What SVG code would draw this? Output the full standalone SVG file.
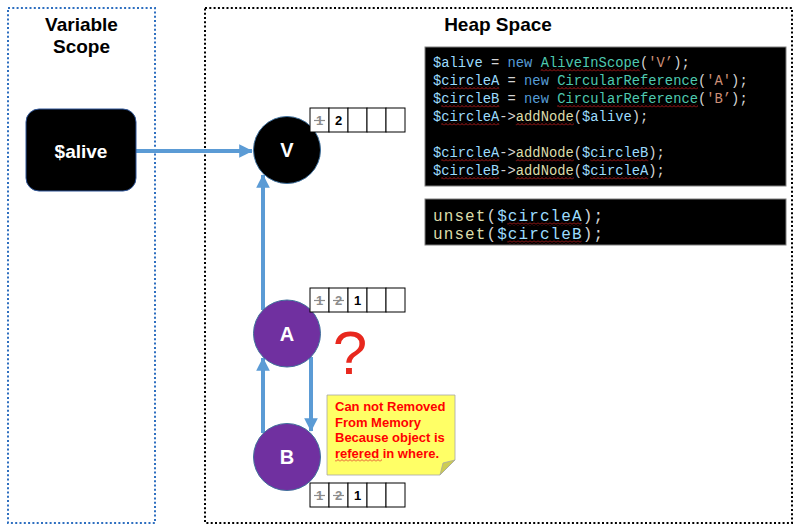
<svg xmlns="http://www.w3.org/2000/svg" width="800" height="532" viewBox="0 0 800 532">
<defs>
<style>
.title{font-family:"Liberation Sans",Arial,sans-serif;font-weight:bold;font-size:19px;fill:#000;text-anchor:middle}
.nlabel{font-family:"Liberation Sans",Arial,sans-serif;font-weight:bold;font-size:20px;fill:#fff;text-anchor:middle}
.cell{fill:#fff;stroke:#000;stroke-width:1}
.cnt{font-family:"Liberation Sans",Arial,sans-serif;font-weight:bold;font-size:13px;fill:#000;text-anchor:middle}
.old{fill:#8c8c8c}
.strike{stroke:#8c8c8c;stroke-width:1.2}
.code{font-family:"Liberation Mono","DejaVu Sans Mono",monospace;font-size:13.8px;fill:#d4d4d4}
.code2{font-family:"Liberation Mono","DejaVu Sans Mono",monospace;font-size:16px;fill:#d4d4d4}
.v{fill:#9cdcfe}.k{fill:#569cd6}.c{fill:#4ec9b0}.s{fill:#ce9178}.f{fill:#dcdcaa}
.edge{stroke:#5b9bd5;stroke-width:4;fill:none}
.note{font-family:"Liberation Sans",Arial,sans-serif;font-weight:bold;font-size:13px;fill:#ff0000}
.sq{fill:url(#squig)}
</style>
<pattern id="squig" patternUnits="userSpaceOnUse" width="4" height="3">
<path d="M0,2.5 L2,0.5 L4,2.5" stroke="#e02020" stroke-width="0.8" fill="none"/>
</pattern>
<marker id="arr" markerWidth="4" markerHeight="4" refX="3.2" refY="2" orient="auto" markerUnits="strokeWidth">
<path d="M0,0.3 L3.4,2 L0,3.7 Z" fill="#5b9bd5"/>
</marker>
</defs>
<rect width="800" height="532" fill="#fff"/>

<g id="variable-scope">
<rect x="8" y="8" width="147" height="515" fill="none" stroke="#2e6fc0" stroke-width="2" stroke-dasharray="2 2.3"/>
<text class="title" x="81.5" y="31">Variable</text>
<text class="title" x="81.5" y="53">Scope</text>
</g>

<g id="heap-space">
<rect x="205" y="8" width="587" height="515" fill="none" stroke="#000" stroke-width="2" stroke-dasharray="2 2.3"/>
<text class="title" x="498" y="31">Heap Space</text>
</g>

<g id="connectors">
<line class="edge" x1="136" y1="151" x2="252" y2="151" marker-end="url(#arr)"/>
<line class="edge" x1="263" y1="310" x2="263" y2="175" marker-end="url(#arr)"/>
<line class="edge" x1="263" y1="433" x2="263" y2="358" marker-end="url(#arr)"/>
<line class="edge" x1="311" y1="357" x2="311" y2="431" marker-end="url(#arr)"/>
</g>

<g id="alive">
<rect x="26" y="109" width="110" height="82" rx="13" fill="#000" stroke="#2f5597" stroke-width="1"/>
<text class="nlabel" x="81" y="158" style="font-size:19px">$alive</text>
</g>

<g id="node-V">
<circle cx="287" cy="150" r="33.5" fill="#000" stroke="#41719c" stroke-width="1"/>
<text class="nlabel" x="287" y="157">V</text>
</g>
<g id="count-V">
<rect class="cell" x="310" y="108" width="19" height="24"/>
<rect class="cell" x="329" y="108" width="19" height="24"/>
<rect class="cell" x="348" y="108" width="19" height="24"/>
<rect class="cell" x="367" y="108" width="19" height="24"/>
<rect class="cell" x="386" y="108" width="19" height="24"/>
<text class="cnt old" x="319.5" y="125">1</text>
<line class="strike" x1="314" y1="120.5" x2="325" y2="120.5"/>
<text class="cnt" x="338.5" y="125">2</text>
</g>

<g id="node-A">
<circle cx="287" cy="333.5" r="33.5" fill="#7030a0" stroke="#41719c" stroke-width="1"/>
<text class="nlabel" x="287" y="341">A</text>
</g>
<g id="count-A">
<rect class="cell" x="310" y="288" width="19" height="24"/>
<rect class="cell" x="329" y="288" width="19" height="24"/>
<rect class="cell" x="348" y="288" width="19" height="24"/>
<rect class="cell" x="367" y="288" width="19" height="24"/>
<rect class="cell" x="386" y="288" width="19" height="24"/>
<text class="cnt old" x="319.5" y="305">1</text>
<line class="strike" x1="314" y1="300.5" x2="325" y2="300.5"/>
<text class="cnt old" x="338.5" y="305">2</text>
<line class="strike" x1="333" y1="300.5" x2="344" y2="300.5"/>
<text class="cnt" x="357.5" y="305">1</text>
</g>

<g id="node-B">
<circle cx="287" cy="457" r="33.5" fill="#7030a0" stroke="#41719c" stroke-width="1"/>
<text class="nlabel" x="287" y="464">B</text>
</g>
<g id="count-B">
<rect class="cell" x="310" y="483" width="19" height="24"/>
<rect class="cell" x="329" y="483" width="19" height="24"/>
<rect class="cell" x="348" y="483" width="19" height="24"/>
<rect class="cell" x="367" y="483" width="19" height="24"/>
<rect class="cell" x="386" y="483" width="19" height="24"/>
<text class="cnt old" x="319.5" y="500">1</text>
<line class="strike" x1="314" y1="495.5" x2="325" y2="495.5"/>
<text class="cnt old" x="338.5" y="500">2</text>
<line class="strike" x1="333" y1="495.5" x2="344" y2="495.5"/>
<text class="cnt" x="357.5" y="500">1</text>
</g>

<g id="question">
<text x="350" y="374" style="font-family:'Liberation Sans',Arial,sans-serif;font-size:62px;fill:#e8281e;text-anchor:middle">?</text>
</g>

<g id="note">
<path d="M327,395 H455 V460 L440,475 H327 Z" fill="#ffff66" stroke="#a6a6a6" stroke-width="0.8"/>
<path d="M440,475 L443,463 L455,460 Z" fill="#cccc52" stroke="#a6a6a6" stroke-width="0.8"/>
<text class="note" x="335" y="411">Can not Removed</text>
<text class="note" x="335" y="427">From Memory</text>
<text class="note" x="335" y="442">Because object is</text>
<text class="note" x="335" y="458">refered in where.</text>
<rect class="sq" x="335" y="459" width="47" height="3"/>
</g>

<g id="code1">
<rect x="425" y="47" width="361" height="139" fill="#000" stroke="#7f7f7f" stroke-width="1"/>
<text class="code" x="433" y="67"><tspan class="v">$alive</tspan> = <tspan class="k">new</tspan> <tspan class="c">AliveInScope</tspan>(<tspan class="s">'V’</tspan>);</text>
<text class="code" x="433" y="85"><tspan class="v">$circleA</tspan> = <tspan class="k">new</tspan> <tspan class="c">CircularReference</tspan>(<tspan class="s">'A'</tspan>);</text>
<text class="code" x="433" y="103"><tspan class="v">$circleB</tspan> = <tspan class="k">new</tspan> <tspan class="c">CircularReference</tspan>(<tspan class="s">'B’</tspan>);</text>
<text class="code" x="433" y="121"><tspan class="v">$circleA</tspan>-&gt;<tspan class="f">addNode</tspan>(<tspan class="v">$alive</tspan>);</text>
<text class="code" x="433" y="157"><tspan class="v">$circleA</tspan>-&gt;<tspan class="f">addNode</tspan>(<tspan class="v">$circleB</tspan>);</text>
<text class="code" x="433" y="175"><tspan class="v">$circleB</tspan>-&gt;<tspan class="f">addNode</tspan>(<tspan class="v">$circleA</tspan>);</text>
<rect class="sq" x="540.6" y="68.5" width="99.4" height="3"/>
<rect class="sq" x="441.3" y="86.5" width="58" height="3"/>
<rect class="sq" x="557.2" y="86.5" width="140.8" height="3"/>
<rect class="sq" x="441.3" y="104.5" width="58" height="3"/>
<rect class="sq" x="557.2" y="104.5" width="140.8" height="3"/>
<rect class="sq" x="441.3" y="122.5" width="58" height="3"/>
<rect class="sq" x="515.8" y="122.5" width="58" height="3"/>
<rect class="sq" x="441.3" y="158.5" width="58" height="3"/>
<rect class="sq" x="515.8" y="158.5" width="58" height="3"/>
<rect class="sq" x="590.3" y="158.5" width="58" height="3"/>
<rect class="sq" x="441.3" y="176.5" width="58" height="3"/>
<rect class="sq" x="515.8" y="176.5" width="58" height="3"/>
<rect class="sq" x="590.3" y="176.5" width="58" height="3"/>
</g>

<g id="code2">
<rect x="425" y="199" width="361" height="46" fill="#000" stroke="#7f7f7f" stroke-width="1"/>
<text class="code2" x="433" y="221" textLength="170" lengthAdjust="spacing"><tspan class="f">unset</tspan>(<tspan class="v">$circleA</tspan>);</text>
<text class="code2" x="433" y="239" textLength="170" lengthAdjust="spacing"><tspan class="f">unset</tspan>(<tspan class="v">$circleB</tspan>);</text>
<rect class="sq" x="507.3" y="222.5" width="74.3" height="3"/>
<rect class="sq" x="507.3" y="240.5" width="74.3" height="3"/>
</g>
</svg>
